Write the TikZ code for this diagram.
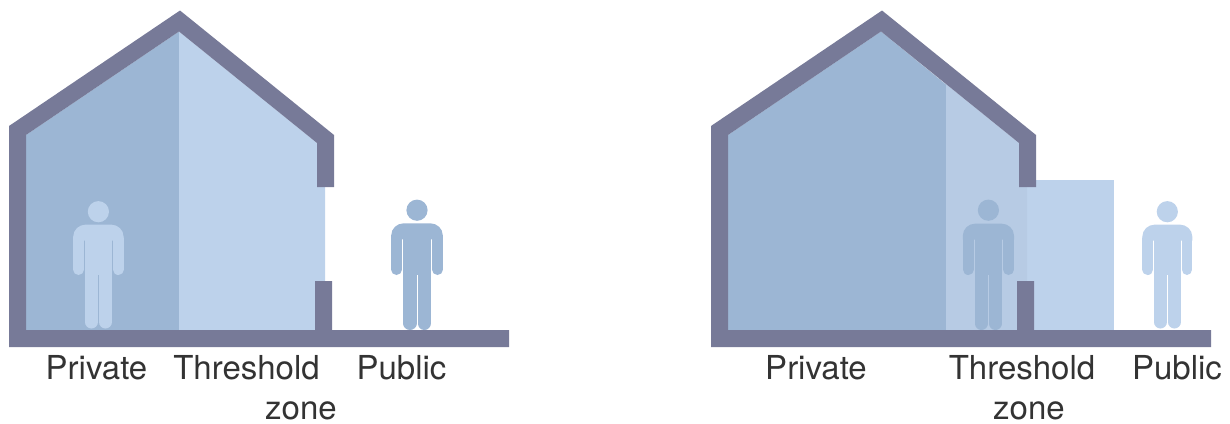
\documentclass[tikz,border=0pt]{standalone}
\usepackage{fontspec}
\setmainfont{TeX Gyre Heros}
\definecolor{wallc}{HTML}{777A98}
\definecolor{darkb}{HTML}{9CB6D4}
\definecolor{lightb}{HTML}{BDD2EB}
\definecolor{midb}{HTML}{B7CBE4}
\definecolor{labelc}{HTML}{333333}
% #1 centre x, #2 head y, #3 half width, #4 shoulder y, #5 half leg span, #6 foot y, #7 colour
\newcommand{\personfig}[7]{%
  \begin{scope}[shift={(#1,0)}]
    \fill[#7] (0,#2) circle[radius=10.6pt];
    \fill[#7] ({-#3},{#4+16}) -- ({-#3},{#4+12}) .. controls ({-#3},{#4+5}) and ({-#3+6},#4) .. ({-#3+12},#4) -- ({#3-12},#4) .. controls ({#3-6},#4) and (#3,{#4+5}) .. (#3,{#4+12}) -- (#3,{#4+16}) -- cycle;
    \fill[#7] ({-#5},{#4+5}) rectangle (#5,275);
    \draw[#7, line width=10.8pt, line cap=round] ({-#3+5.4},{#4+14}) -- ({-#3+5.4},269.6);
    \draw[#7, line width=10.8pt, line cap=round] ({#3-5.4},{#4+14}) -- ({#3-5.4},269.6);
    \draw[#7, line width={(#5-0.5)*1pt}, line cap=round] ({-#5/2-0.25},272) -- ({-#5/2-0.25},{#6-#5/2+0.25});
    \draw[#7, line width={(#5-0.5)*1pt}, line cap=round] ({#5/2+0.25},272) -- ({#5/2+0.25},{#6-#5/2+0.25});
  \end{scope}}
\tikzset{
  wall/.style={fill=wallc},
  zonelabel/.style={inner sep=0pt, anchor=base, text=labelc, font=\fontsize{33}{33}\selectfont}
}
\begin{document}
\begin{tikzpicture}[x=1pt,y=-1pt]
\useasboundingbox (0,0) rectangle (1230,423);
% left house interior
\fill[darkb] (26,135) -- (179,31.5) -- (179,330) -- (26,330) -- cycle;
\fill[lightb] (179,31.5) -- (317,143) -- (317,187) -- (325,187) -- (325,330) -- (179,330) -- cycle;
\personfig{98.4}{211.7}{25.2}{224.7}{13.6}{328.5}{lightb}
\personfig{417}{210.2}{25.8}{223.4}{13.8}{330}{darkb}
% left house shell
\fill[wall] (9,126) -- (180,10.5) -- (334,135) -- (334,187) -- (317,187) -- (317,143) -- (179,31.5) -- (26,135) -- (26,330) -- (315,330) -- (315,281) -- (332,281) -- (332,330) -- (509,330) -- (509,347) -- (9,347) -- cycle;
% right house interior
\fill[lightb] (1027,180) -- (1114,180) -- (1114,330) -- (1027,330) -- cycle;
\fill[darkb] (728,135) -- (881,31.5) -- (946,84.5) -- (946,330) -- (728,330) -- cycle;
\fill[midb] (946,84) -- (1019,143) -- (1019,187) -- (1027,187) -- (1027,330) -- (946,330) -- cycle;
\personfig{988.4}{210.2}{25.6}{223.7}{13.6}{330}{darkb}
\personfig{1167.3}{211.7}{25}{224.7}{13.4}{328.5}{lightb}
% right house shell
\fill[wall] (711,126) -- (882,10.5) -- (1036,135) -- (1036,187) -- (1019,187) -- (1019,143) -- (881,31.5) -- (728,135) -- (728,330) -- (1017,330) -- (1017,281) -- (1034,281) -- (1034,330) -- (1211,330) -- (1211,347) -- (711,347) -- cycle;
% labels
\node[zonelabel] (lprivate) at (96.5,379) {Private};
\node[zonelabel] (lthreshold) at (246.5,379) {Threshold};
\node[zonelabel] (lzone) at (301,419.5) {zone};
\node[zonelabel] (lpublic) at (401.5,379) {Public};
\node[zonelabel] (rprivate) at (816,379) {Private};
\node[zonelabel] (rthreshold) at (1022,379) {Threshold};
\node[zonelabel] (rzone) at (1029,419.5) {zone};
\node[zonelabel] (rpublic) at (1177,379) {Public};
\end{tikzpicture}
\end{document}
